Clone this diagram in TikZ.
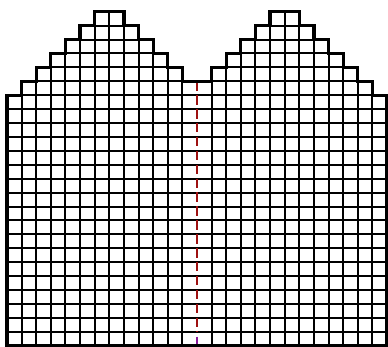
\documentclass[tikz,border=0pt]{standalone}
\definecolor{cutred}{HTML}{9E1111}
\definecolor{cutpurple}{HTML}{8A1A9A}
\newcommand\mittenoutline{(0,0) -- (0,18) -- (1,18) -- (1,19) -- (2,19) -- (2,20) -- (3,20) -- (3,21) -- (4,21) -- (4,22) -- (5,22) -- (5,23) -- (6,23) -- (6,24) -- (8,24) -- (8,23) -- (9,23) -- (9,22) -- (10,22) -- (10,21) -- (11,21) -- (11,20) -- (12,20) -- (12,19) -- (14,19) -- (14,20) -- (15,20) -- (15,21) -- (16,21) -- (16,22) -- (17,22) -- (17,23) -- (18,23) -- (18,24) -- (20,24) -- (20,23) -- (21,23) -- (21,22) -- (22,22) -- (22,21) -- (23,21) -- (23,20) -- (24,20) -- (24,19) -- (25,19) -- (25,18) -- (26,18) -- (26,0) -- cycle}
\begin{document}
\begin{tikzpicture}[x=14.615pt,y=13.917pt,
  outline/.style={line width=3.2pt, black, line join=miter},
  gridline/.style={line width=2pt, black},
  cutline/.style={line width=2.9pt, cutred, dash pattern=on 9.5pt off 4.4pt},
  cutend/.style={line width=2.9pt, cutpurple}]
\useasboundingbox[fill=white] (-0.479,-0.0934) rectangle (26.069,24.84);
\begin{scope}
  \clip \mittenoutline;
  \foreach \i in {1,...,12,14,15,...,25} {
    \draw[gridline] (\i,0) -- (\i,24);
  }
  \foreach \j in {1,...,23} {
    \draw[gridline] (0,\j) -- (26,\j);
  }
\end{scope}
\coordinate (cuttop) at (13,19);
\coordinate (cutmid) at (13,1);
\coordinate (endtop) at (13,0.65);
\coordinate (endbot) at (13,0.15);
\draw[cutline] (cuttop) -- (cutmid);
\draw[cutend] (endtop) -- (endbot);
\draw[outline] \mittenoutline;
\end{tikzpicture}
\end{document}
